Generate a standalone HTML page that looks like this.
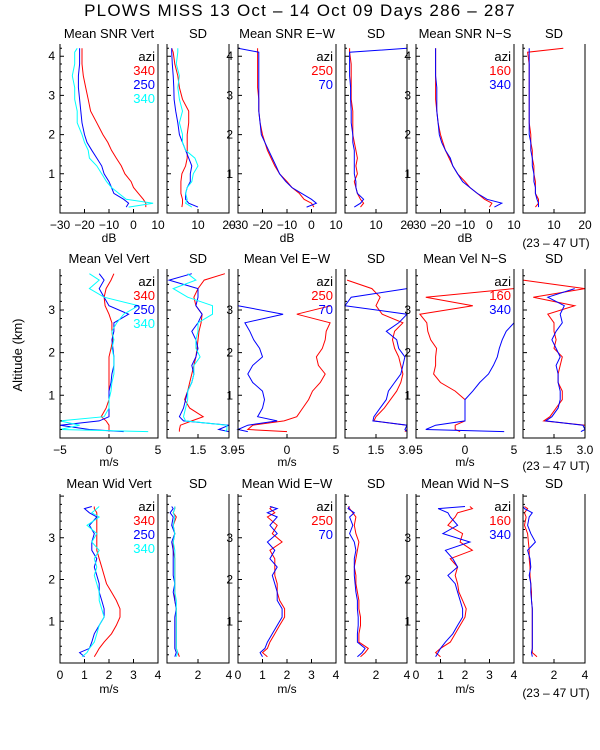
<!DOCTYPE html>
<html><head><meta charset="utf-8"><style>
html,body{margin:0;padding:0;background:#fff;}
svg{display:block;font-family:"Liberation Sans",sans-serif;}
</style></head><body>
<svg id="chart" width="600" height="750" viewBox="0 0 600 750" xmlns="http://www.w3.org/2000/svg">
<text x="300" y="16" text-anchor="middle" font-size="17" letter-spacing="1.2">PLOWS MISS  13 Oct – 14 Oct 09 Days 286 – 287</text>
<text x="0" y="0" transform="translate(22,355) rotate(-90)" text-anchor="middle" font-size="13">Altitude (km)</text>
</svg>
<script>
const alt1=[0.15,0.25,0.35,0.5,0.65,0.8,1.0,1.2,1.4,1.6,1.8,2.0,2.3,2.6,2.9,3.2,3.5,3.8,4.1,4.2];
const alt2=[0.15,0.2,0.3,0.4,0.5,0.7,0.9,1.1,1.3,1.5,1.7,1.9,2.1,2.3,2.5,2.7,2.9,3.1,3.3,3.5,3.7,3.85];
const alt3=[0.15,0.25,0.35,0.5,0.7,0.9,1.1,1.3,1.5,1.7,1.9,2.1,2.3,2.5,2.7,2.9,3.1,3.3,3.5,3.6,3.7,3.75];
// Row 1: SNR
const snrVertRed=[5,5,4,2,0,-1,-3.5,-5,-7,-9,-10.5,-12.5,-15,-17.5,-18.5,-19.5,-20.5,-21,-21,-21];
const snrVertBlue=[-3,-2,-4,-8,-9,-10,-12,-13,-15,-17,-19,-20,-21,-21.5,-22,-22.5,-22.5,-22,-22,-22];
const snrVertCyan=[-2,8,-3,-6,-9,-11,-13,-15,-18,-18.5,-20,-21,-23,-23,-24,-24,-25,-24,-24,-23];
const snrVertSdRed=[4.8,5,5,4.5,4.5,4.5,4.8,6,6.5,6.5,6.5,6.5,7,7,5,4,3.5,2.5,2,1.5];
const snrVertSdBlue=[10,7,6,6,6.5,7.5,7.5,8,7,6,5,4,3.5,2.8,2.3,2.2,2,1.7,1.5,1.5];
const snrVertSdCyan=[8,6,6.5,6,6.5,8,8.5,10,9,6,5,5,4,5,4,3.5,4,3,3.5,3.5];
const snrEwRed=[1,0,-3,-5,-8,-10,-13,-15,-16.5,-18,-19,-20,-21,-21.5,-21.5,-22,-22,-22,-22,-22];
const snrEwBlue=[-2,2,0,-4,-8,-10.5,-13,-14.5,-16,-17.5,-19,-20.5,-21,-21.5,-21.5,-21.5,-21.5,-21.5,-21.5,-30];
const snrEwSdRed=[5,6,5,4,3.5,3,4,3.5,4,3.5,3,2.5,2.5,2.5,2,2,2,2,1.5,1.5];
const snrEwSdBlue=[3,5,6,4,3.5,3.5,3,3,3,3,2.5,2.5,2,2,1.8,1.8,1.5,1.5,1.5,20];
const snrNsRed=[0,1,-2,-5,-8,-10,-13,-15,-16.5,-18,-19,-20,-21,-21.5,-22,-22,-22,-22,-22,-22];
const snrNsBlue=[2,5,-1,-5,-8,-11,-13,-15,-16,-18,-19.5,-20.5,-21,-21.5,-21.5,-21.5,-22,-22,-22,-22];
const snrNsSdRed=[4,5,5,4,4,4,3.5,3.5,3,3,2.5,2.5,2,2,2,2,2,2,1.5,13];
const snrNsSdBlue=[5,5,4.5,4,4,3.5,3.5,3,3,2.5,2.5,2,2,2,2,2,2,2,2,2];
// Row 2: velocity
const velVertRed=[0,0,0,-0.3,-0.8,-0.3,0,0,0,0,0,0,0.2,0.4,0.3,0.3,0,-0.4,-0.5,-0.3,0.2,0.5];
const velVertBlue=[1.5,-2,-5,-1,0,0,0,0,0.2,0.3,0.5,0.5,0.4,0.3,0.5,0.5,2,0,-0.5,-1,-0.5,-1];
const velVertCyan=[4,-5,-3,-5,-0.5,0,0,0.2,0.3,0.5,0.5,0.5,0.3,0.5,0.3,0.8,1.5,3,-0.5,-2,-1,-2];
const velVertSdRed=[0.6,0.6,0.65,1.2,1.75,1.1,0.85,1.0,1.1,1.2,1.3,1.4,1.45,1.5,1.55,1.65,1.7,1.4,1.3,1.5,1.8,2.8];
const velVertSdBlue=[3,2.5,3,0.8,0.6,0.8,0.9,1.0,1.2,1.3,1.2,1.4,1.5,1.4,1.2,1.5,1.7,1.4,1.5,1.5,0.1,1.2];
const velVertSdCyan=[2.8,2.9,2.9,0.9,0.8,0.9,1.0,1.0,1.2,1.3,1.3,1.6,1.4,1.4,1.5,1.5,2.2,2.2,1.0,0.3,1.4,1.0];
const velEwRed=[0,-4,-3.5,-0.3,1,1.6,2.2,2.6,3.4,3.9,3.2,3.0,3.6,3.9,4,4.4,1,4.5,null,null,null,null];
const velEwBlue=[-4,-5,-4,-1,-3,-2.5,-2.3,-2.5,-3.5,-4,-3.5,-2.5,-2.8,-3.4,-3.8,-4.3,-0.4,-5,null,null,null,null];
const velEwSdRed=[2.9,3,3,1.4,1.5,1.9,2.2,2.5,2.7,2.8,2.7,2.6,2.4,2.3,2.4,2.8,1.8,1.5,1.7,1.3,0.1,null];
const velEwSdBlue=[3,2.9,3,1.35,1.4,1.7,2,2.1,2.4,2.7,2.8,2.9,2.6,2.5,2.0,2.6,3.0,0,0.3,3,null,null];
const velNsRed=[-0.5,-1,-1,0,0,0,0,-1,-2.5,-3.2,-3.0,-3.0,-2.9,-3.5,-3.8,-3.9,-4.6,0.8,-4,5,null,null];
const velNsBlue=[4,-4,-3,0,0,0,0,0.8,1.5,2.4,2.9,3.3,3.5,3.8,4.2,5,null,null,null,null,null,null];
const velNsSdRed=[3,3,3,1.0,1.3,1.6,1.9,1.9,1.7,1.7,1.8,1.9,1.5,1.6,1.5,1.5,1.2,2.5,0.5,3,0,null];
const velNsSdBlue=[2.8,3,2.9,1.1,1.4,1.7,1.8,1.8,1.7,1.7,1.6,1.8,1.6,1.4,1.6,1.9,1.8,2,1.2,2.5,null,null];
// Row 3: width
const widVertRed=[1.4,1.5,1.6,1.8,2.1,2.3,2.45,2.45,2.3,2.1,1.9,1.8,1.7,1.6,1.5,1.5,1.5,1.5,1.5,1.5,1.4,1.4];
const widVertBlue=[1.0,0.8,1.2,1.3,1.4,1.6,1.8,1.8,1.7,1.6,1.6,1.5,1.4,1.5,1.3,1.3,1.4,1.2,1.5,1.2,1.0,1.3];
const widVertCyan=[0.9,1.1,1.2,1.4,1.5,1.6,1.8,1.7,1.6,1.6,1.5,1.4,1.5,1.4,1.6,1.3,1.5,1.1,1.6,1.3,1.5,1.6];
const widVertSdRed=[0.8,0.7,0.6,0.6,0.6,0.6,0.6,0.6,0.5,0.5,0.5,0.5,0.5,0.5,0.4,0.4,0.5,0.4,0.6,0.4,0.5,0.5];
const widVertSdBlue=[0.5,0.6,0.5,0.5,0.5,0.5,0.5,0.6,0.5,0.4,0.5,0.4,0.4,0.4,0.4,0.3,0.5,0.3,0.4,0.2,0.4,0.3];
const widVertSdCyan=[0.6,0.7,0.6,0.6,0.6,0.6,0.6,0.6,0.6,0.5,0.5,0.5,0.5,0.5,0.5,0.4,0.5,0.4,0.5,0.4,0.5,0.5];
const widEwRed=[1.2,1.0,1.2,1.3,1.5,1.7,1.9,1.9,1.7,1.6,1.6,1.5,1.5,1.5,1.3,1.8,1.4,1.6,1.2,1.5,1.3,1.4];
const widEwBlue=[1.0,0.9,1.1,1.2,1.4,1.6,1.8,1.8,1.6,1.6,1.5,1.4,1.6,1.3,1.5,1.2,1.6,1.3,1.6,1.2,1.6,1.3];
const widEwSdRed=[1.0,1.3,1.5,0.9,0.9,1.0,1.0,0.9,0.9,0.8,0.7,0.7,0.6,0.7,0.8,0.9,0.7,0.6,0.7,0.5,0.3,0.2];
const widEwSdBlue=[0.8,1.1,1.3,0.8,0.8,0.85,0.85,0.8,0.8,0.7,0.65,0.6,0.6,0.6,0.7,0.6,0.3,0.5,0.3,0.6,0.2,0.3];
const widNsRed=[1.0,0.8,1.0,1.4,1.6,1.8,2.0,2.05,1.9,1.75,1.7,1.6,1.7,1.4,2.3,1.8,1.9,1.3,1.6,1.7,2.3,2.2];
const widNsBlue=[0.8,0.9,1.0,1.2,1.5,1.7,1.9,1.9,1.8,1.7,1.6,1.3,1.7,1.5,1.2,2.2,1.1,1.7,1.4,1.3,0.9,2.0];
const widNsSdRed=[0.9,0.6,0.6,0.6,0.6,0.6,0.6,0.6,0.55,0.55,0.5,0.45,0.45,0.4,0.4,0.35,0.3,0.1,0.2,0.1,0.3,0.1];
const widNsSdBlue=[0.6,0.55,0.6,0.6,0.6,0.6,0.6,0.6,0.55,0.5,0.5,0.4,0.5,0.45,0.3,0.8,0.5,0.3,0.4,0.6,0.1,0.0];
// tick labels
const snrTicks=[-30,-20,-10,0,10];
const snrSdTicks=[10,20];
const velTicks=[-5,0,5];
const velSdTicks=[1.5,3.0];
const widTicks=[0,1,2,3,4];
const widSdTicks=[2,4];
const legendVert=['340','250','340'];
const legendEw=['250','70'];
const legendNs=['160','340'];

const NS='http://www.w3.org/2000/svg';
const svg=document.getElementById('chart');
function mk(tag,attrs,parent){const e=document.createElementNS(NS,tag);for(const k in attrs)e.setAttribute(k,attrs[k]);(parent||svg).appendChild(e);return e;}
const colX=[[60,158],[167,229],[238,336],[345,407],[416,514],[523,585]];
const rows=[{top:44,bot:213,ymax:4.31,alt:alt1,yt:[1,2,3,4],lab:225,unit:238},
            {top:269,bot:438,ymax:3.96,alt:alt2,yt:[1,2,3],lab:450,unit:462},
            {top:494,bot:663,ymax:4.05,alt:alt3,yt:[1,2,3],lab:675,unit:689}];
const C={r:'#ff0000',b:'#0000ff',c:'#00ffff'};
function panel(ri,ci,name,title,xmin,xmax,ticks,fmt,unit,series,legend){
  const R=rows[ri],x0=colX[ci][0],x1=colX[ci][1];
  const g=mk('g',{});
  
  
  const sx=v=>x0+(v-xmin)/(xmax-xmin)*(x1-x0);
  const sy=a=>R.bot-a/R.ymax*(R.bot-R.top);
  const t=mk('text',{x:(x0+x1)/2,y:R.top-6,'text-anchor':'middle','font-size':13},g);
  
  
  t.textContent=title;
  series.forEach(s=>{
    let d='',pen=false;
    R.alt.forEach((a,i)=>{const v=s.v[i];if(v===null){pen=false;return;}
      d+=(pen?'L':'M')+sx(v).toFixed(1)+' '+sy(a).toFixed(1);pen=true;});
    const p=mk('path',{d:d,fill:'none',stroke:C[s.c],'stroke-width':1},g);
    
    
  });
  const ax=mk('path',{d:`M${x0} ${R.top}V${R.bot}H${x1}V${R.top}`,fill:'none',stroke:'#000','stroke-width':1},g);
  
  
  let td='';
  for(let a=0.2;a<R.ymax;a+=0.2){const y=sy(a).toFixed(1);const maj=Math.abs(a-Math.round(a))<0.01;
    td+=`M${x0} ${y}h${maj?4:2}`;}
  ticks.forEach(v=>{const x=sx(v).toFixed(1);td+=`M${x} ${R.bot}v-4`;});
  const tk=mk('path',{d:td,stroke:'#000','stroke-width':1,fill:'none'},g);
  
  
  ticks.forEach(v=>{const l=mk('text',{x:sx(v),y:R.lab+4,'text-anchor':'middle','font-size':12},g);
    
    
    l.textContent=fmt(v).replace('-','−');});
  if(unit){const u=mk('text',{x:(x0+x1)/2,y:R.unit+4,'text-anchor':'middle','font-size':12},g);
    
    
    u.textContent=unit;}
  if(ci===0||ci===2||ci===4){R.yt.forEach(a=>{const l=mk('text',{x:x0-5,y:sy(a)+4,'text-anchor':'end','font-size':12},g);
    
    
    l.textContent=a;});}
  if(legend){const cols=['r','b','c'];
    const az=mk('text',{x:x1-3,y:R.top+17,'text-anchor':'end','font-size':13,fill:'#000'},g);
    
    
    az.textContent='azi';
    legend.forEach((s,i)=>{const l=mk('text',{x:x1-3,y:R.top+31+i*14,'text-anchor':'end','font-size':13,fill:C[cols[i]]},g);
      
      
      l.textContent=s;});}
}
const f0=v=>String(v), f1=v=>v.toFixed(1);
panel(0,0,'snr-vert','Mean SNR Vert',-30,10,snrTicks,f0,'dB',[{n:'red',c:'r',v:snrVertRed},{n:'blue',c:'b',v:snrVertBlue},{n:'cyan',c:'c',v:snrVertCyan}],legendVert);
panel(0,1,'snr-vert-sd','SD',0,20,snrSdTicks,f0,'',[{n:'red',c:'r',v:snrVertSdRed},{n:'blue',c:'b',v:snrVertSdBlue},{n:'cyan',c:'c',v:snrVertSdCyan}]);
panel(0,2,'snr-ew','Mean SNR E−W',-30,10,snrTicks,f0,'dB',[{n:'red',c:'r',v:snrEwRed},{n:'blue',c:'b',v:snrEwBlue}],legendEw);
panel(0,3,'snr-ew-sd','SD',0,20,snrSdTicks,f0,'',[{n:'red',c:'r',v:snrEwSdRed},{n:'blue',c:'b',v:snrEwSdBlue}]);
panel(0,4,'snr-ns','Mean SNR N−S',-30,10,snrTicks,f0,'dB',[{n:'red',c:'r',v:snrNsRed},{n:'blue',c:'b',v:snrNsBlue}],legendNs);
panel(0,5,'snr-ns-sd','SD',0,20,snrSdTicks,f0,'',[{n:'red',c:'r',v:snrNsSdRed},{n:'blue',c:'b',v:snrNsSdBlue}]);
panel(1,0,'vel-vert','Mean Vel Vert',-5,5,velTicks,f0,'m/s',[{n:'red',c:'r',v:velVertRed},{n:'blue',c:'b',v:velVertBlue},{n:'cyan',c:'c',v:velVertCyan}],legendVert);
panel(1,1,'vel-vert-sd','SD',0,3,velSdTicks,f1,'',[{n:'red',c:'r',v:velVertSdRed},{n:'blue',c:'b',v:velVertSdBlue},{n:'cyan',c:'c',v:velVertSdCyan}]);
panel(1,2,'vel-ew','Mean Vel E−W',-5,5,velTicks,f0,'m/s',[{n:'red',c:'r',v:velEwRed},{n:'blue',c:'b',v:velEwBlue}],legendEw);
panel(1,3,'vel-ew-sd','SD',0,3,velSdTicks,f1,'',[{n:'red',c:'r',v:velEwSdRed},{n:'blue',c:'b',v:velEwSdBlue}]);
panel(1,4,'vel-ns','Mean Vel N−S',-5,5,velTicks,f0,'m/s',[{n:'red',c:'r',v:velNsRed},{n:'blue',c:'b',v:velNsBlue}],legendNs);
panel(1,5,'vel-ns-sd','SD',0,3,velSdTicks,f1,'',[{n:'red',c:'r',v:velNsSdRed},{n:'blue',c:'b',v:velNsSdBlue}]);
panel(2,0,'wid-vert','Mean Wid Vert',0,4,widTicks,f0,'m/s',[{n:'red',c:'r',v:widVertRed},{n:'blue',c:'b',v:widVertBlue},{n:'cyan',c:'c',v:widVertCyan}],legendVert);
panel(2,1,'wid-vert-sd','SD',0,4,widSdTicks,f0,'',[{n:'red',c:'r',v:widVertSdRed},{n:'blue',c:'b',v:widVertSdBlue},{n:'cyan',c:'c',v:widVertSdCyan}]);
panel(2,2,'wid-ew','Mean Wid E−W',0,4,widTicks,f0,'m/s',[{n:'red',c:'r',v:widEwRed},{n:'blue',c:'b',v:widEwBlue}],legendEw);
panel(2,3,'wid-ew-sd','SD',0,4,widSdTicks,f0,'',[{n:'red',c:'r',v:widEwSdRed},{n:'blue',c:'b',v:widEwSdBlue}]);
panel(2,4,'wid-ns','Mean Wid N−S',0,4,widTicks,f0,'m/s',[{n:'red',c:'r',v:widNsRed},{n:'blue',c:'b',v:widNsBlue}],legendNs);
panel(2,5,'wid-ns-sd','SD',0,4,widSdTicks,f0,'',[{n:'red',c:'r',v:widNsSdRed},{n:'blue',c:'b',v:widNsSdBlue}]);
[247,470,697].forEach(y=>{const t=mk('text',{x:556,y:y,'text-anchor':'middle','font-size':12});
  
  
  t.textContent='(23 – 47 UT)';});
</script>
</body></html>
